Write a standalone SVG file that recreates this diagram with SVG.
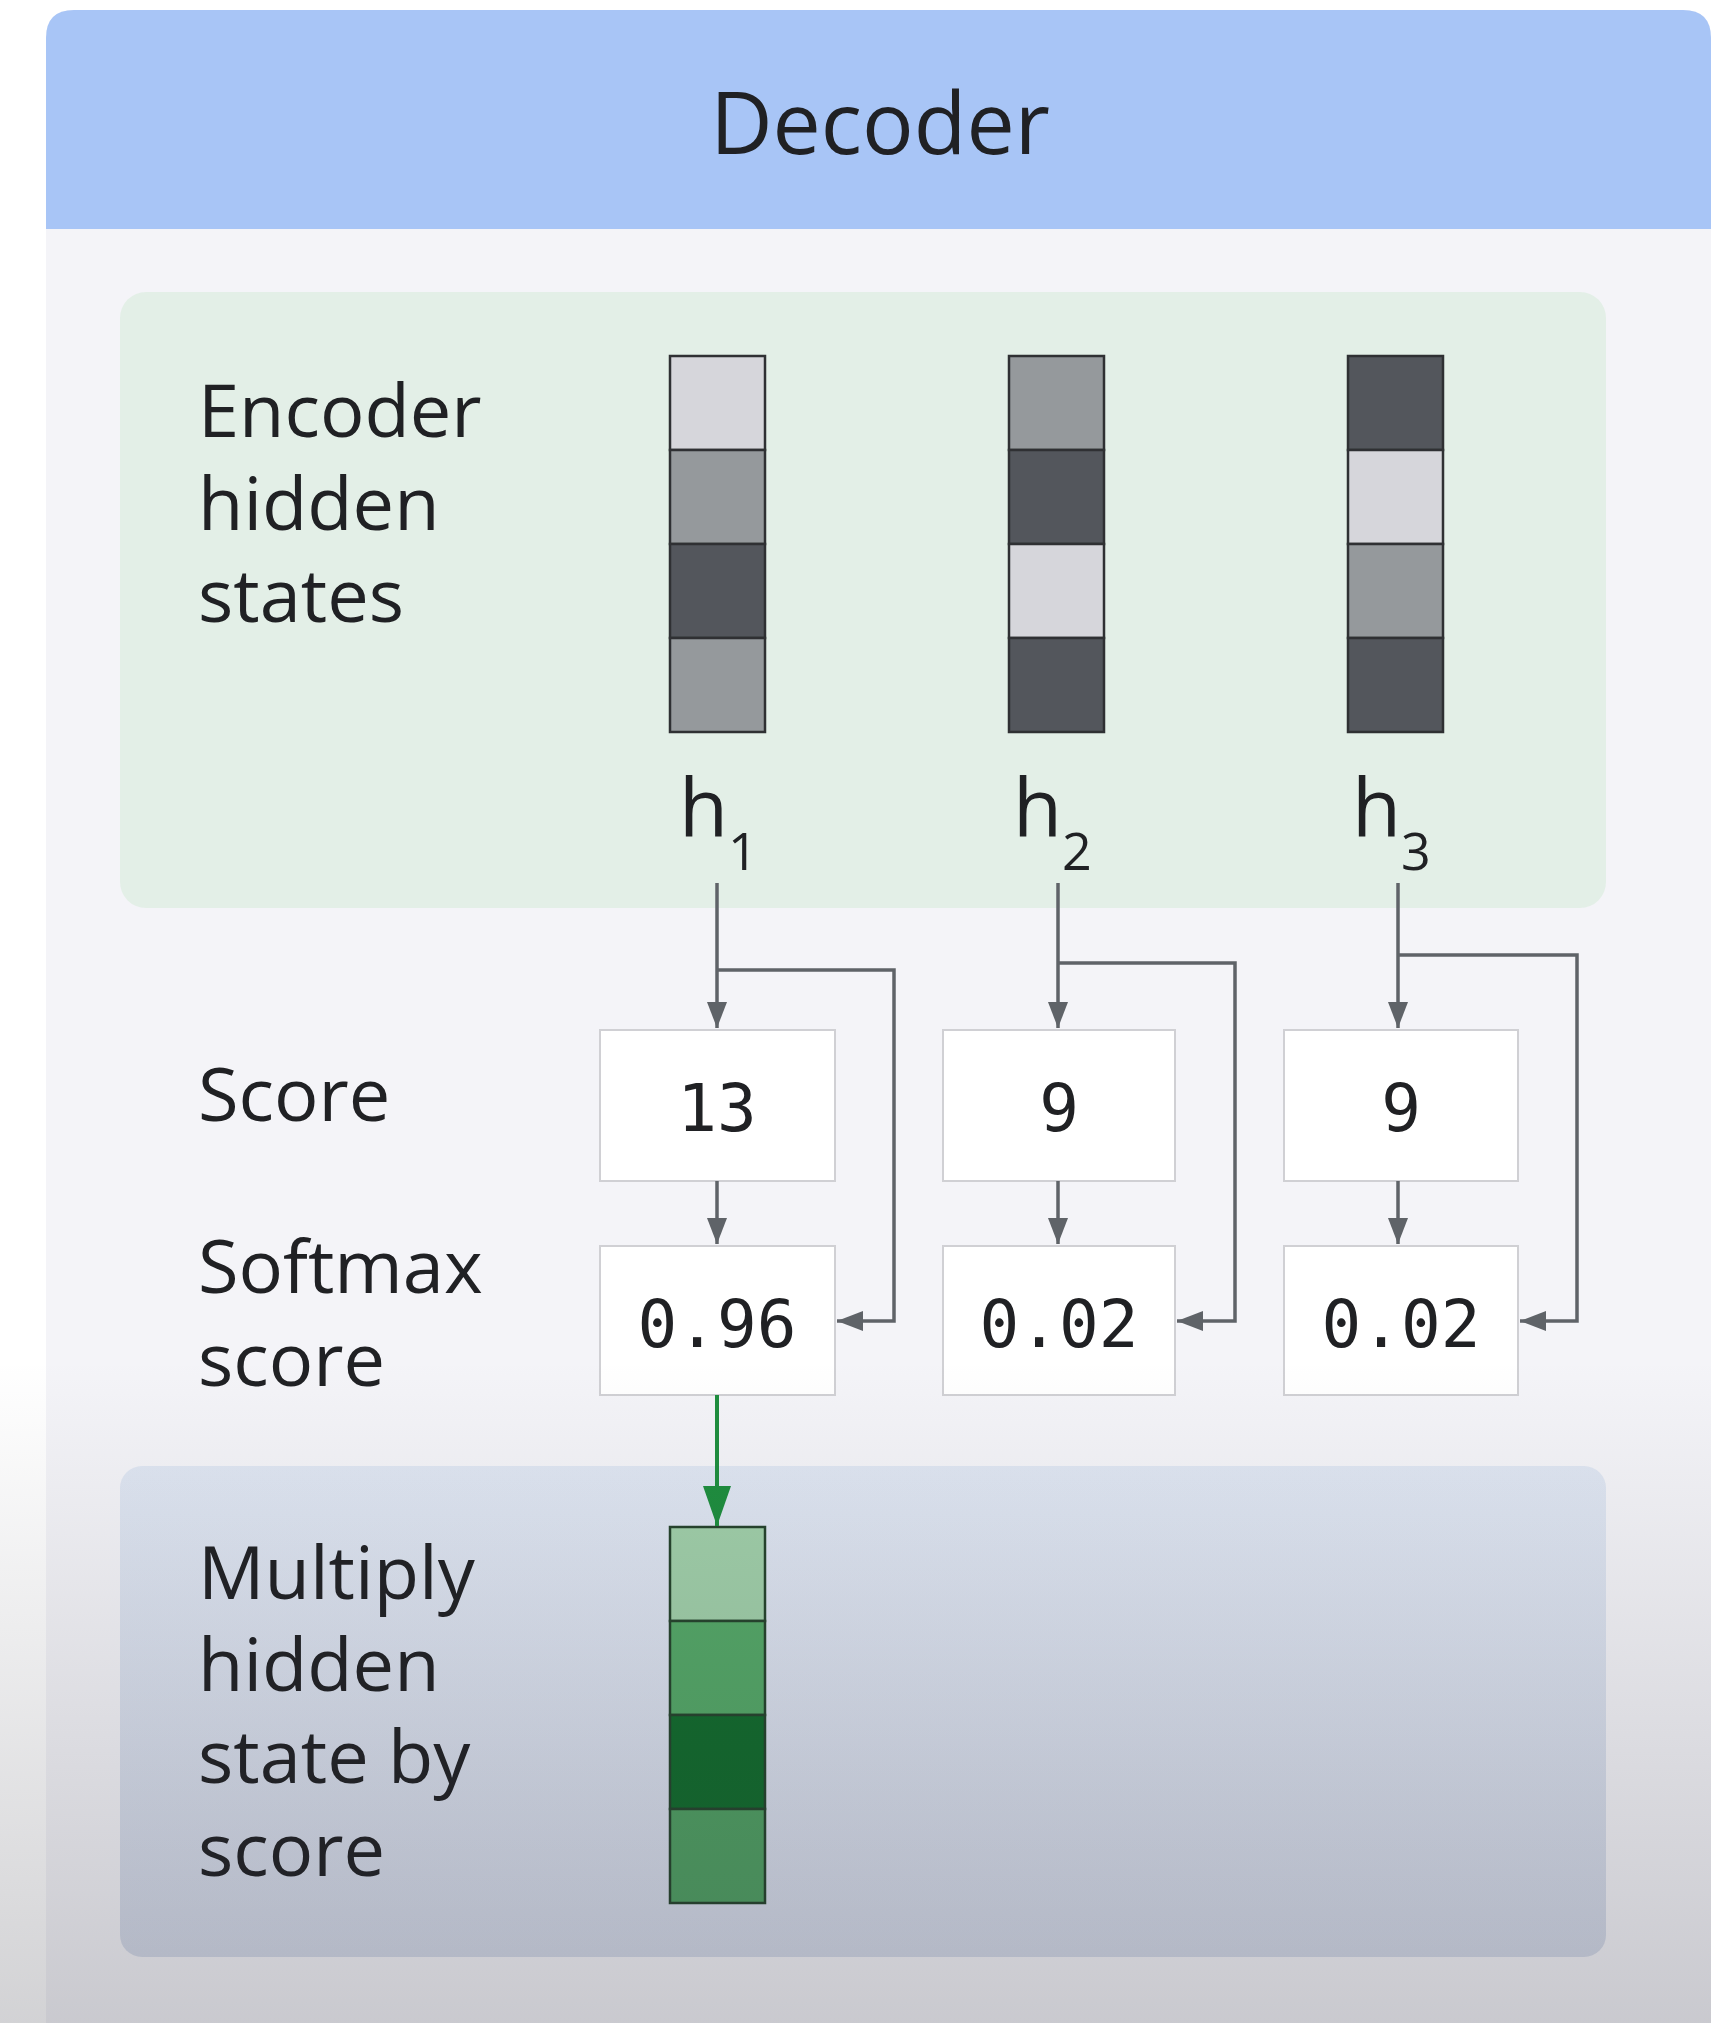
<svg xmlns="http://www.w3.org/2000/svg" width="1711" height="2023" viewBox="0 0 1711 2023">
  <defs>
    <style>
      .label { font-family: "Open Sans", "Noto Sans", "Liberation Sans", sans-serif; font-size: 74px; fill: #202124; }
      .title { font-family: "Open Sans", "Noto Sans", "Liberation Sans", sans-serif; font-size: 86px; fill: #202124; }
      .hname { font-family: "Open Sans", "Noto Sans", "Liberation Sans", sans-serif; font-size: 80px; fill: #202124; }
      .num { font-family: "DejaVu Sans Mono", "Liberation Mono", monospace; font-size: 66px; fill: #202124; text-anchor: middle; }
      .box { fill: #ffffff; stroke: #d0d0d4; stroke-width: 2; }
      .cell { stroke: #2f3033; stroke-width: 2.5; }
      .light { fill: #d6d6db; }
      .mid { fill: #95999c; }
      .dark { fill: #53565c; }
      .gcell { stroke: #25432c; stroke-width: 2.5; }
      .wire { fill: none; stroke: #5f6368; stroke-width: 3.5; }
      .gwire { fill: none; stroke: #1e8e3e; stroke-width: 4; }
    </style>
    <marker id="arrow" viewBox="0 0 26 20" refX="26" refY="10" markerWidth="26" markerHeight="20" markerUnits="userSpaceOnUse" orient="auto">
      <path d="M0,0 L26,10 L0,20 Z" fill="#5f6368"/>
    </marker>
    <marker id="garrow" viewBox="0 0 40 28" refX="40" refY="14" markerWidth="40" markerHeight="28" markerUnits="userSpaceOnUse" orient="auto">
      <path d="M0,0 L40,14 L0,28 Z" fill="#1e8e3e"/>
    </marker>
    <linearGradient id="fade" x1="0" y1="0" x2="0" y2="1">
      <stop offset="0" stop-color="#2a2a36" stop-opacity="0"/>
      <stop offset="1" stop-color="#2a2a36" stop-opacity="0.21"/>
    </linearGradient>
    <linearGradient id="lowerPanel" x1="0" y1="0" x2="0" y2="1">
      <stop offset="0" stop-color="#dfe6f2"/>
      <stop offset="1" stop-color="#d4dae8"/>
    </linearGradient>
  </defs>

  <!-- page -->
  <rect x="0" y="0" width="1711" height="2023" fill="#ffffff"/>

  <!-- card: header band and body -->
  <g id="card">
    <path d="M46,2040 V38 Q46,10 74,10 H1683 Q1711,10 1711,38 V2040 Z" fill="#f4f4f8"/>
    <path d="M46,229 V38 Q46,10 74,10 H1683 Q1711,10 1711,38 V229 Z" fill="#a8c5f6"/>
    <text class="title" x="880" y="154" text-anchor="middle">Decoder</text>
  </g>

  <!-- encoder panel -->
  <g id="encoder-panel">
    <rect x="120" y="292" width="1486" height="616" rx="26" fill="#e3efe7"/>
    <text class="label" x="198" y="437">Encoder</text>
    <text class="label" x="198" y="530">hidden</text>
    <text class="label" x="198" y="622">states</text>
  </g>

  <g id="h1">
    <rect class="cell light" x="670" y="356" width="95" height="94"/>
    <rect class="cell mid" x="670" y="450" width="95" height="94"/>
    <rect class="cell dark" x="670" y="544" width="95" height="94"/>
    <rect class="cell mid" x="670" y="638" width="95" height="94"/>
    <text class="hname" x="679" y="836">h<tspan font-size="52" dy="34">1</tspan></text>
  </g>
  <g id="h2">
    <rect class="cell mid" x="1009" y="356" width="95" height="94"/>
    <rect class="cell dark" x="1009" y="450" width="95" height="94"/>
    <rect class="cell light" x="1009" y="544" width="95" height="94"/>
    <rect class="cell dark" x="1009" y="638" width="95" height="94"/>
    <text class="hname" x="1013" y="836">h<tspan font-size="52" dy="34">2</tspan></text>
  </g>
  <g id="h3">
    <rect class="cell dark" x="1348" y="356" width="95" height="94"/>
    <rect class="cell light" x="1348" y="450" width="95" height="94"/>
    <rect class="cell mid" x="1348" y="544" width="95" height="94"/>
    <rect class="cell dark" x="1348" y="638" width="95" height="94"/>
    <text class="hname" x="1352" y="836">h<tspan font-size="52" dy="34">3</tspan></text>
  </g>

  <!-- row labels -->
  <g id="score-label">
    <text class="label" x="198" y="1121">Score</text>
  </g>
  <g id="softmax-label">
    <text class="label" x="198" y="1293">Softmax</text>
    <text class="label" x="198" y="1386">score</text>
  </g>

  <!-- score boxes -->
  <g id="score1"><rect class="box" x="600" y="1030" width="235" height="151"/><text class="num" x="717" y="1131">13</text></g>
  <g id="score2"><rect class="box" x="943" y="1030" width="232" height="151"/><text class="num" x="1059" y="1131">9</text></g>
  <g id="score3"><rect class="box" x="1284" y="1030" width="234" height="151"/><text class="num" x="1401" y="1131">9</text></g>

  <!-- softmax boxes -->
  <g id="softmax1"><rect class="box" x="600" y="1246" width="235" height="149"/><text class="num" x="717" y="1347">0.96</text></g>
  <g id="softmax2"><rect class="box" x="943" y="1246" width="232" height="149"/><text class="num" x="1059" y="1347">0.02</text></g>
  <g id="softmax3"><rect class="box" x="1284" y="1246" width="234" height="149"/><text class="num" x="1401" y="1347">0.02</text></g>

  <!-- weighted state panel -->
  <g id="weighted-panel">
    <rect x="120" y="1466" width="1486" height="491" rx="22" fill="url(#lowerPanel)"/>
    <text class="label" x="198" y="1599">Multiply</text>
    <text class="label" x="198" y="1691">hidden</text>
    <text class="label" x="198" y="1783">state by</text>
    <text class="label" x="198" y="1876">score</text>
  </g>
  <g id="weighted-h1">
    <rect class="gcell" x="670" y="1527" width="95" height="94" fill="#a0cfa9"/>
    <rect class="gcell" x="670" y="1621" width="95" height="94" fill="#54a867"/>
    <rect class="gcell" x="670" y="1715" width="95" height="94" fill="#116b2c"/>
    <rect class="gcell" x="670" y="1809" width="95" height="94" fill="#4f9f62"/>
  </g>

  <!-- connectors -->
  <g id="connectors">
    <path class="wire" d="M717,883 V1028" marker-end="url(#arrow)"/>
    <path class="wire" d="M717,970 H894 V1321 H837" marker-end="url(#arrow)"/>
    <path class="wire" d="M717,1181 V1244" marker-end="url(#arrow)"/>

    <path class="wire" d="M1058,883 V1028" marker-end="url(#arrow)"/>
    <path class="wire" d="M1058,963 H1235 V1321 H1177" marker-end="url(#arrow)"/>
    <path class="wire" d="M1058,1181 V1244" marker-end="url(#arrow)"/>

    <path class="wire" d="M1398,883 V1028" marker-end="url(#arrow)"/>
    <path class="wire" d="M1398,955 H1577 V1321 H1520" marker-end="url(#arrow)"/>
    <path class="wire" d="M1398,1181 V1244" marker-end="url(#arrow)"/>

    <path class="gwire" d="M717,1395 V1526" marker-end="url(#garrow)"/>
  </g>

  <!-- darkening toward the lower edge -->
  <rect x="0" y="1360" width="1711" height="663" fill="url(#fade)"/>
</svg>
